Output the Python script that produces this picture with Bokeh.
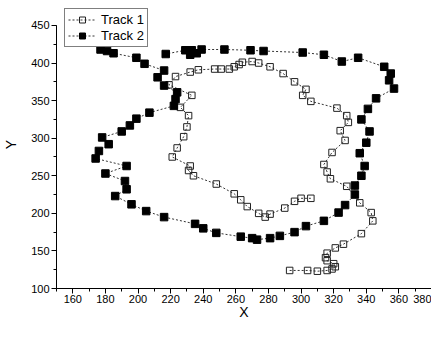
from bokeh.plotting import figure
from bokeh.models import Range1d, SingleIntervalTicker, Legend, LegendItem
from bokeh.embed import file_html
from bokeh.resources import INLINE

# Track 1 (open squares)
track1_x = [293, 304, 310, 316, 319, 321, 320, 316, 315, 316, 321, 326, 337, 344, 343, 336,
            328, 318, 316, 314, 319, 327, 324, 329, 328, 322, 306, 301, 303, 296, 289, 281,
            274, 270, 264, 262, 259, 256, 251, 247, 237, 232, 223, 219, 233, 226, 231, 230,
            228, 224, 221, 232, 231, 234, 248, 259, 263, 267, 274, 278, 281, 290, 296, 300, 306]
track1_y = [124, 124, 123, 124, 126, 129, 133, 137, 141, 147, 154, 159, 173, 190, 201, 214,
            236, 246, 255, 265, 281, 297, 310, 321, 330, 340, 349, 357, 365, 375, 386, 395,
            400, 402, 401, 398, 395, 392, 392, 392, 391, 388, 382, 371, 357, 341, 330, 315,
            302, 287, 275, 263, 257, 250, 239, 226, 218, 209, 200, 195, 199, 207, 216, 220, 220]

# Track 2 (filled squares)
track2_x = [177, 181, 185, 199, 204, 216, 212, 216, 224, 223, 222, 207, 199, 195, 190, 178,
            182, 176, 174, 193, 180, 192, 193, 186, 196, 205, 216, 235, 240, 248, 263, 270,
            273, 281, 287, 296, 303, 314, 323, 327, 333, 333, 337, 339, 336, 340, 342, 337,
            341, 346, 357, 354, 355, 351, 335, 325, 314, 301, 277, 269, 253, 239, 236, 232,
            233, 229, 217]
track2_y = [418, 416, 413, 407, 399, 390, 381, 370, 361, 352, 343, 334, 326, 317, 309, 301,
            292, 283, 273, 263, 253, 243, 232, 223, 212, 203, 195, 186, 180, 174, 169, 167,
            165, 167, 170, 175, 183, 190, 201, 211, 225, 237, 250, 263, 280, 294, 309, 325,
            339, 353, 366, 377, 386, 395, 407, 402, 411, 414, 416, 417, 418, 418, 413, 411,
            417, 417, 412]

series_names = ["Track 1", "Track 2"]
FONT = "Liberation Sans"

p = figure(width=431, height=322, output_backend="svg", toolbar_location=None,
           x_range=Range1d(150, 380), y_range=Range1d(100, 483.2),
           min_border_left=56, min_border_right=0, min_border_top=0, min_border_bottom=33)
p.outline_line_color = None
p.grid.visible = False
p.background_fill_color = "white"
p.border_fill_color = "white"

p.xaxis.ticker = SingleIntervalTicker(interval=20, num_minor_ticks=2)
p.yaxis.ticker = SingleIntervalTicker(interval=50, num_minor_ticks=2)
p.yaxis.bounds = (100, 450)
for ax in (p.xaxis, p.yaxis):
    ax.axis_line_color = "black"
    ax.axis_line_width = 1
    ax.major_tick_in = 0
    ax.major_tick_out = 5
    ax.minor_tick_in = 0
    ax.minor_tick_out = 3
    ax.major_tick_line_color = "black"
    ax.minor_tick_line_color = "black"
    ax.major_label_text_font = FONT
    ax.major_label_text_font_size = "11px"
    ax.major_label_text_color = "black"
    ax.axis_label_text_font = FONT
    ax.axis_label_text_font_size = "14px"
    ax.axis_label_text_font_style = "normal"
    ax.axis_label_text_color = "black"
p.xaxis.axis_label = "X"
p.yaxis.axis_label = "Y"
p.xaxis.major_label_standoff = 1
p.yaxis.major_label_standoff = 2
p.xaxis.axis_label_standoff = -2
p.yaxis.axis_label_standoff = 9

l1 = p.line(track1_x, track1_y, line_color="black", line_width=0.8, line_dash="2 2")
s1 = p.scatter(track1_x, track1_y, marker="square", size=6.5, fill_color=None,
               line_color="#222222", line_width=1)
l2 = p.line(track2_x, track2_y, line_color="black", line_width=0.8, line_dash="2 2")
s2 = p.scatter(track2_x, track2_y, marker="square", size=7.5, fill_color="black",
               line_color="black")

legend = Legend(items=[LegendItem(label=series_names[0], renderers=[l1, s1]),
                       LegendItem(label=series_names[1], renderers=[l2, s2])],
                location="top_left")
legend.border_line_color = "black"
legend.border_line_width = 1
legend.background_fill_color = "white"
legend.background_fill_alpha = 1
legend.label_text_font = FONT
legend.label_text_font_size = "13px"
legend.label_text_color = "black"
legend.glyph_width = 28
legend.glyph_height = 15
legend.label_height = 15
legend.label_standoff = 5
legend.padding = 3
legend.spacing = 1
legend.margin = 8
p.add_layout(legend, "center")

open("out.html", "w").write(file_html(p, INLINE))
